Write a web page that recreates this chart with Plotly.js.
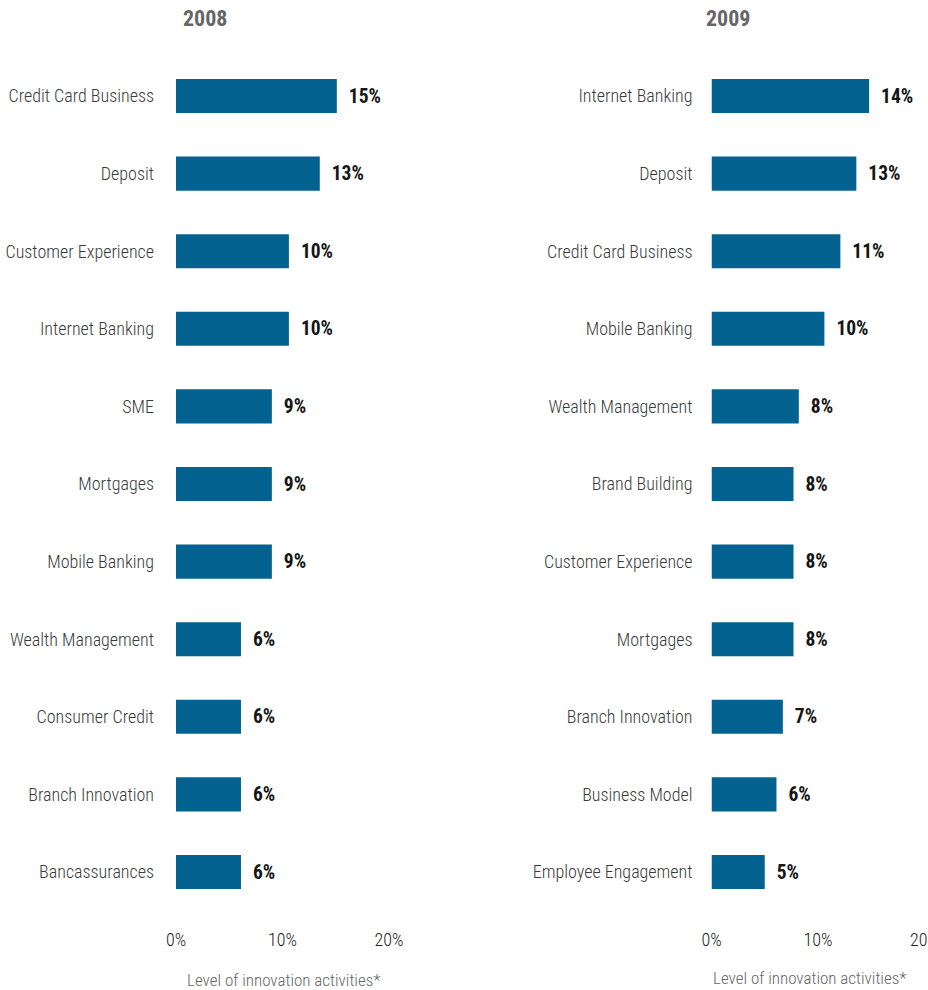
<!DOCTYPE html>
<html>
<head>
<meta charset="utf-8">
<script src="https://cdn.plot.ly/plotly-3.0.1.min.js"></script>
<style>
  html, body { margin: 0; padding: 0; overflow: hidden; background: #fff; }
  #chart { width: 940px; height: 990px; }
</style>
</head>
<body>
<div id="chart"></div>
<script>
// ---- Data ----
const categories2008 = ["Credit Card Business", "Deposit", "Customer Experience", "Internet Banking", "SME", "Mortgages", "Mobile Banking", "Wealth Management", "Consumer Credit", "Branch Innovation", "Bancassurances"];
const values2008 = [15.1, 13.5, 10.6, 10.6, 9.0, 9.0, 9.0, 6.1, 6.1, 6.1, 6.1];
const labels2008 = ["15%", "13%", "10%", "10%", "9%", "9%", "9%", "6%", "6%", "6%", "6%"];

const categories2009 = ["Internet Banking", "Deposit", "Credit Card Business", "Mobile Banking", "Wealth Management", "Brand Building", "Customer Experience", "Mortgages", "Branch Innovation", "Business Model", "Employee Engagement"];
const values2009 = [14.8, 13.6, 12.1, 10.6, 8.2, 7.7, 7.7, 7.7, 6.7, 6.1, 5.0];
const labels2009 = ["14%", "13%", "11%", "10%", "8%", "8%", "8%", "8%", "7%", "6%", "5%"];

const tickVals = [0, 10, 20];
const tickText = ["0%", "10%", "20%"];
const yearTitles = ["2008", "2009"];
const axisTitle = "Level of innovation activities*";

// ---- Style ----
const W = 940, H = 990;
const FONT = "'Roboto Condensed', 'Liberation Sans Narrow', 'DejaVu Sans Condensed', 'Arial Narrow', sans-serif";
const BAR = "#03628f";
const pad = "\u00a0\u00a0";

function barTrace(cats, vals, labels, xa, ya) {
  return {
    type: "bar", orientation: "h",
    y: cats, x: vals,
    text: labels.map(t => pad + t),
    textposition: "outside",
    cliponaxis: false,
    textfont: { family: FONT, size: 19.5, color: "#151515", weight: "bold" },
    marker: { color: BAR, line: { width: 0 } },
    xaxis: xa, yaxis: ya,
    hoverinfo: "skip"
  };
}

const yDom = [1 - 910.8 / H, 1 - 57.2 / H];

const xCommon = {
  range: [0, 20], tickvals: tickVals, ticktext: tickText,
  showgrid: false, zeroline: false, showline: false, ticks: "",
  tickfont: { family: FONT, size: 18, color: "#222", weight: 300 },
  ticklabelstandoff: 16, fixedrange: true
};
const yCommon = {
  autorange: "reversed", showgrid: false, zeroline: false, showline: false,
  ticks: "",
  tickfont: { family: FONT, size: 18, color: "#3a3a3a", weight: 300 },
  domain: yDom, fixedrange: true
};

const layout = {
  width: W, height: H,
  margin: { l: 0, r: 0, t: 0, b: 0 },
  paper_bgcolor: "#fff", plot_bgcolor: "#fff",
  showlegend: false,
  bargap: 0.56,
  xaxis: Object.assign({}, xCommon, { domain: [176 / W, 389 / W], anchor: "y" }),
  yaxis: Object.assign({}, yCommon, { anchor: "x", ticklabelstandoff: 21 }),
  xaxis2: Object.assign({}, xCommon, { domain: [711.5 / W, 924.5 / W], anchor: "y2" }),
  yaxis2: Object.assign({}, yCommon, { anchor: "x2", ticklabelstandoff: 18 }),
  annotations: [
    { text: "<b>" + yearTitles[0] + "</b>", xref: "paper", yref: "paper", x: 204.5 / W, y: 1 - 18 / H, xanchor: "center", yanchor: "middle", showarrow: false, font: { family: FONT, size: 22, color: "#666" } },
    { text: "<b>" + yearTitles[1] + "</b>", xref: "paper", yref: "paper", x: 728 / W, y: 1 - 18 / H, xanchor: "center", yanchor: "middle", showarrow: false, font: { family: FONT, size: 22, color: "#666" } },
    { text: axisTitle, xref: "paper", yref: "paper", x: 283.5 / W, y: 1 - 980 / H, xanchor: "center", yanchor: "middle", showarrow: false, font: { family: FONT, size: 17, color: "#666", weight: 300 } },
    { text: axisTitle, xref: "paper", yref: "paper", x: 810 / W, y: 1 - 978 / H, xanchor: "center", yanchor: "middle", showarrow: false, font: { family: FONT, size: 17, color: "#666", weight: 300 } }
  ]
};

Plotly.newPlot("chart", [
  barTrace(categories2008, values2008, labels2008, "x", "y"),
  barTrace(categories2009, values2009, labels2009, "x2", "y2")
], layout, { staticPlot: true, displayModeBar: false });
</script>
</body>
</html>
